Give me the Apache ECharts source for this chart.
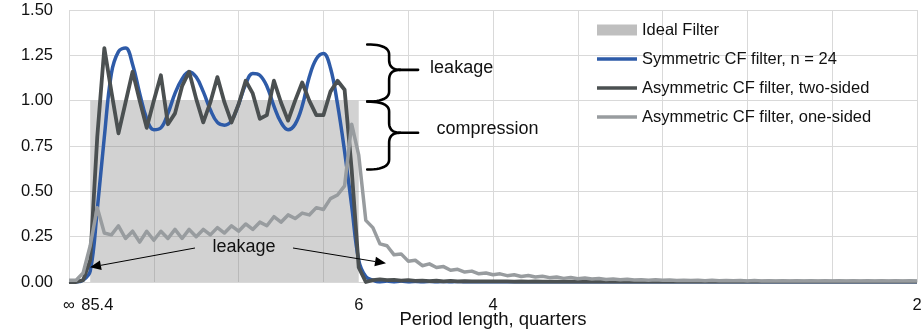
<!DOCTYPE html>
<html><head><meta charset="utf-8">
<script src="https://cdn.jsdelivr.net/npm/echarts@6/dist/echarts.min.js"></script>
<style>html,body{margin:0;padding:0;background:#fff}#c{width:924px;height:334px}</style>
</head><body><div id="c"></div>
<script>
const FONT = '"Liberation Sans", Arial, sans-serif';
const TEXT = '#111111';

// x axis: frequency index (0 .. pi), labelled with period length in quarters
const freqCategories = Array.from({length: 121}, (_, i) => String(i));
const periodTickIndex  = [0, 4, 41, 60, 120];
const periodTickLabels = ['∞', '85.4', '6', '4', '2'];
const yTickLabels = ['0.00', '0.25', '0.50', '0.75', '1.00', '1.25', '1.50'];

const seriesNames = ['Ideal Filter', 'Symmetric CF filter, n = 24',
  'Asymmetric CF filter, two-sided', 'Asymmetric CF filter, one-sided'];

const idealFilter = [
0,0,0,1,1,1,1,1,1,1, 1,1,1,1,1,1,1,1,1,1,
1,1,1,1,1,1,1,1,1,1, 1,1,1,1,1,1,1,1,1,1,
1,0,0,0,0,0,0,0,0,0, 0,0,0,0,0,0,0,0,0,0,
0,0,0,0,0,0,0,0,0,0, 0,0,0,0,0,0,0,0,0,0,
0,0,0,0,0,0,0,0,0,0, 0,0,0,0,0,0,0,0,0,0,
0,0,0,0,0,0,0,0,0,0, 0,0,0,0,0,0,0,0,0,0, 0];

const symmetricCF = [
0,0,0.01,0.06,0.40,0.80,1.15,1.27,1.29,1.20,
1.04,0.90,0.84,0.85,0.93,1.04,1.12,1.16,1.13,1.05,
0.95,0.88,0.865,0.89,0.98,1.09,1.15,1.14,1.08,0.97,
0.88,0.84,0.87,0.97,1.13,1.23,1.26,1.18,0.98,0.72,
0.42,0.12,0.03,0.01,0,0.005,0,0.005,0,0.003,
0,0.003,0,0.002,0,0.002,0,0,0,0,
0,0,0,0,0,0,0,0,0,0,
0,0,0,0,0,0,0,0,0,0,
0,0,0,0,0,0,0,0,0,0,
0,0,0,0,0,0,0,0,0,0,
0,0,0,0,0,0,0,0,0,0,
0,0,0,0,0,0,0,0,0,0, 0];

const asymTwoSided = [
0,0,0.01,0.12,0.80,1.29,1.05,0.82,0.99,1.16,
1.00,0.85,1.00,1.14,0.87,0.93,1.08,1.16,1.01,0.88,
0.99,1.13,0.99,0.88,0.98,1.11,1.04,0.90,0.92,1.11,
0.99,0.89,1.00,1.10,1.00,0.92,0.92,1.05,1.11,1.06,
0.62,0.08,0.00,0.01,0.015,0.01,0.012,0.008,0.01,0.006,
0.008,0.005,0.007,0.004,0.006,0.004,0.005,0.003,0.004,0.003,
0.004,0.003,0.003,0.002,0.003,0.002,0.003,0.002,0.002,0.002,
0.002,0.002,0.002,0.002,0.002,0.002,0.002,0.002,0.002,0.002,
0.002,0.002,0.002,0.002,0.002,0.002,0.002,0.002,0.002,0.002,
0.002,0.002,0.002,0.002,0.002,0.002,0.002,0.002,0.002,0.002,
0.002,0.002,0.002,0.002,0.002,0.002,0.002,0.002,0.002,0.002,
0.002,0.002,0.002,0.002,0.002,0.002,0.002,0.002,0.002,0.002, 0.002];

const asymOneSided = [
0.01,0.01,0.05,0.20,0.41,0.27,0.26,0.31,0.24,0.28,
0.22,0.28,0.23,0.28,0.24,0.29,0.24,0.29,0.25,0.29,
0.26,0.30,0.27,0.31,0.28,0.32,0.29,0.33,0.31,0.36,
0.33,0.37,0.35,0.38,0.37,0.41,0.40,0.46,0.48,0.53,
0.87,0.70,0.34,0.30,0.21,0.20,0.15,0.155,0.115,0.12,
0.09,0.10,0.08,0.085,0.065,0.07,0.055,0.06,0.045,0.05,
0.04,0.045,0.035,0.04,0.03,0.036,0.028,0.032,0.024,0.028,
0.02,0.025,0.018,0.022,0.016,0.019,0.014,0.017,0.012,0.015,
0.011,0.013,0.010,0.012,0.009,0.011,0.008,0.010,0.008,0.009,
0.007,0.009,0.007,0.008,0.007,0.008,0.006,0.008,0.006,0.007,
0.006,0.007,0.006,0.007,0.006,0.007,0.006,0.007,0.006,0.007,
0.006,0.007,0.006,0.007,0.006,0.007,0.006,0.007,0.006,0.007, 0.006];

// annotations, in data units (frequency index, gain)
const braces = [
  {top: 1.31, tip: 1.17, bottom: 0.995},
  {top: 0.995, tip: 0.823, bottom: 0.62}
];
const braceIdx = {left: 42.2, spine: 45.3, tip: 49.4};
const notes = [
  {text: 'leakage', idx: 51.1, val: 1.18, align: 'left'},
  {text: 'compression', idx: 52.0, val: 0.845, align: 'left'},
  {text: 'leakage', idx: 24.76, val: 0.195, align: 'center'}
];
const arrows = [
  {from: [17.83, 0.1875], to: [2.97, 0.081]},
  {from: [31.70, 0.1875], to: [44.86, 0.103]}
];

const lineIcon = 'path://M0,0 L40,0 L40,3.5 L0,3.5 Z';

const chart = echarts.init(document.getElementById('c'), null, {renderer: 'canvas'});
const lineSeries = (name, data, color, width, smooth, z) => ({
  name, type: 'line', data, symbol: 'none', smooth, z,
  lineStyle: {color, width, join: 'round'}, itemStyle: {color},
  emphasis: {disabled: true}, silent: true, animation: false
});

chart.setOption({
  animation: false,
  grid: {left: 69, right: 7, top: 10, bottom: 52, containLabel: false, outerBoundsMode: 'none'},
  legend: {
    orient: 'vertical', left: 597, top: 21, padding: 0,
    itemWidth: 40, itemHeight: 11, itemGap: 11, selectedMode: false, symbolKeepAspect: true,
    textStyle: {fontFamily: FONT, fontSize: 16.5, color: TEXT, lineHeight: 18},
    data: [
      {name: seriesNames[0], icon: 'rect'},
      {name: seriesNames[1], icon: lineIcon},
      {name: seriesNames[2], icon: lineIcon},
      {name: seriesNames[3], icon: lineIcon}
    ]
  },
  xAxis: {
    type: 'category', data: freqCategories, boundaryGap: false,
    name: 'Period length, quarters', nameLocation: 'middle', nameGap: 28, nameMoveOverlap: false,
    nameTextStyle: {fontFamily: FONT, fontSize: 18.5, color: TEXT},
    axisLine: {show: true, lineStyle: {color: '#d9d9d9', width: 1}},
    axisTick: {show: false},
    axisLabel: {
      interval: (i) => periodTickIndex.indexOf(i) >= 0,
      formatter: (v, i) => { const k = periodTickIndex.indexOf(i); return k >= 0 ? periodTickLabels[k] : ''; },
      fontFamily: FONT, fontSize: 16.5, color: TEXT, margin: 15,
      showMinLabel: true, showMaxLabel: true, hideOverlap: false
    },
    splitLine: {show: true, interval: 11, lineStyle: {color: '#d9d9d9', width: 1}}
  },
  yAxis: {
    type: 'value', min: 0, max: 1.5, interval: 0.25,
    axisLine: {show: false}, axisTick: {show: false},
    axisLabel: {
      formatter: (v) => yTickLabels[Math.round(v / 0.25)],
      fontFamily: FONT, fontSize: 16.5, color: TEXT, margin: 16
    },
    splitLine: {show: true, lineStyle: {color: '#d9d9d9', width: 1}}
  },
  series: [
    {
      name: seriesNames[0], type: 'line', data: idealFilter, step: 'end', symbol: 'none', z: 1,
      lineStyle: {width: 0, color: 'rgba(128,128,128,0)'},
      itemStyle: {color: '#bfbfbf'},
      areaStyle: {color: 'rgba(128,128,128,0.5)', origin: 'start'},
      emphasis: {disabled: true}, silent: true
    },
    lineSeries(seriesNames[1], symmetricCF, '#2e5ba8', 3.5, 0.4, 2),
    lineSeries(seriesNames[2], asymTwoSided, '#4b5051', 3.8, false, 3),
    lineSeries(seriesNames[3], asymOneSided, '#989c9f', 3.5, false, 4)
  ]
});

function px(idx, val) {
  const x0 = chart.convertToPixel({xAxisIndex: 0}, 0);
  const x1 = chart.convertToPixel({xAxisIndex: 0}, 120);
  return [x0 + (x1 - x0) * idx / 120, chart.convertToPixel({yAxisIndex: 0}, val)];
}
function quad(pts, p0, c, p1) {
  for (let k = 1; k <= 12; k++) {
    const t = k / 12, u = 1 - t;
    pts.push([u * u * p0[0] + 2 * u * t * c[0] + t * t * p1[0], u * u * p0[1] + 2 * u * t * c[1] + t * t * p1[1]]);
  }
}

const gfx = [];
braces.forEach((b) => {
  const xl = px(braceIdx.left, 0)[0], xs = px(braceIdx.spine, 0)[0], xt = px(braceIdx.tip, 0)[0];
  const yT = px(0, b.top)[1], yM = px(0, b.tip)[1], yB = px(0, b.bottom)[1];
  const r = 10, h = 11;
  const upper = [[xl, yT]];
  quad(upper, [xl, yT], [xs, yT], [xs, yT + r]);
  upper.push([xs, yM - r]);
  quad(upper, [xs, yM - r], [xs, yM], [xs + h, yM]);
  upper.push([xt, yM]);
  const lower = [[xs + h, yM]];
  quad(lower, [xs + h, yM], [xs, yM], [xs, yM + r]);
  lower.push([xs, yB - r]);
  quad(lower, [xs, yB - r], [xs, yB], [xl, yB]);
  [upper, lower].forEach((pts) => gfx.push({type: 'polyline', silent: true, z: 100,
    shape: {points: pts}, style: {fill: null, stroke: '#000', lineWidth: 2.6, lineCap: 'round', lineJoin: 'round'}}));
});
notes.forEach((n) => {
  const p = px(n.idx, n.val);
  gfx.push({type: 'text', silent: true, z: 100, x: p[0], y: p[1],
    style: {text: n.text, fontFamily: FONT, fontSize: 18, fill: TEXT, align: n.align, verticalAlign: 'middle'}});
});
arrows.forEach((a) => {
  const s = px(a.from[0], a.from[1]), t = px(a.to[0], a.to[1]);
  const dx = t[0] - s[0], dy = t[1] - s[1], len = Math.hypot(dx, dy);
  const ux = dx / len, uy = dy / len, L = 11, W = 4.8;
  const bx = t[0] - ux * L, by = t[1] - uy * L;
  gfx.push({type: 'line', silent: true, z: 100,
    shape: {x1: s[0], y1: s[1], x2: bx, y2: by}, style: {stroke: '#000', lineWidth: 1}});
  gfx.push({type: 'polygon', silent: true, z: 100,
    shape: {points: [[t[0], t[1]], [bx - uy * W, by + ux * W], [bx + uy * W, by - ux * W]]},
    style: {fill: '#000'}});
});
chart.setOption({graphic: gfx});
</script></body></html>
